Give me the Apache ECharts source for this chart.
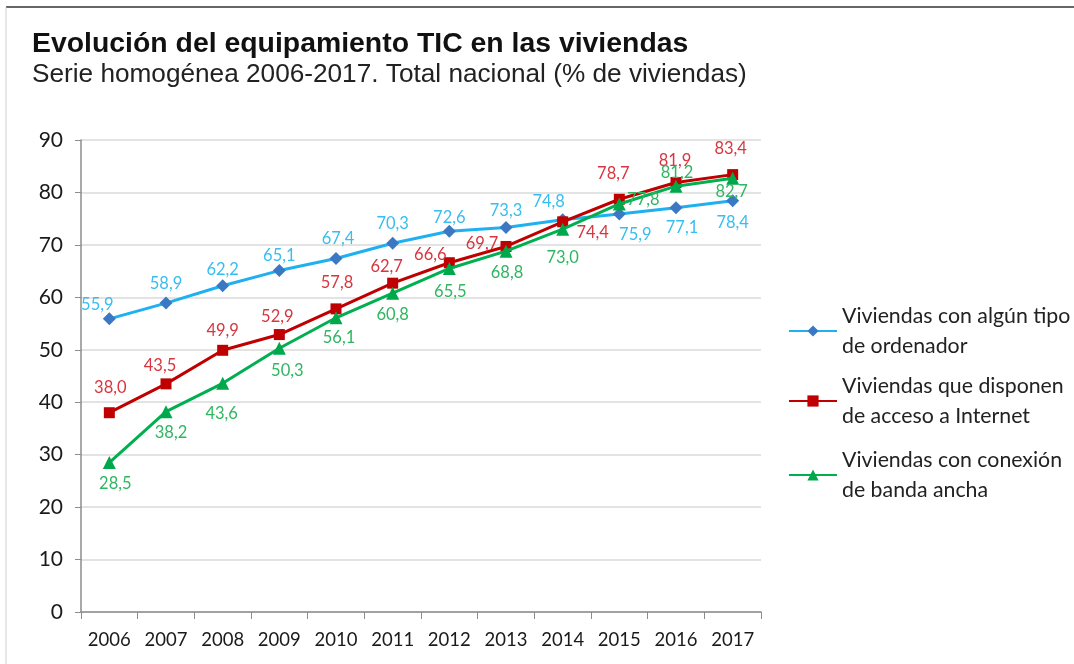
<!DOCTYPE html>
<html>
<head>
<meta charset="utf-8">
<script src="https://cdn.jsdelivr.net/npm/echarts@6/dist/echarts.min.js"></script>
<style>
  html, body { margin: 0; padding: 0; background: #fff; }
  #chart { width: 1074px; height: 664px; }
</style>
</head>
<body>
<div id="chart"></div>
<script>
// datos
const years = ["2006", "2007", "2008", "2009", "2010", "2011", "2012", "2013", "2014", "2015", "2016", "2017"];
const ordenador = [55.9, 58.9, 62.2, 65.1, 67.4, 70.3, 72.6, 73.3, 74.8, 75.9, 77.1, 78.4];
const internet = [38.0, 43.5, 49.9, 52.9, 57.8, 62.7, 66.6, 69.7, 74.4, 78.7, 81.9, 83.4];
const bandaAncha = [28.5, 38.2, 43.6, 50.3, 56.1, 60.8, 65.5, 68.8, 73.0, 77.8, 81.2, 82.7];
const names = [
  ["Viviendas con algún tipo", "de ordenador"],
  ["Viviendas que disponen", "de acceso a Internet"],
  ["Viviendas con conexión", "de banda ancha"]
];

// where each value label sits relative to its marker
const offOrdenador = [[-12,-14],[0,-19],[0,-16],[0,-15],[2,-20],[0,-20],[0,-14],[0,-17],[-14,-18],[16,21],[6,20],[0,22]];
const offInternet = [[1,-25],[-6,-18],[0,-20],[-2,-18],[1,-26],[-6,-17],[-19,-8],[-24,-3],[30,11],[-6,-26],[-1,-22],[-2,-26]];
const offBanda = [[6,21],[5,21],[-1,30],[8,22],[3,20],[0,22],[1,23],[1,21],[0,29],[24,-4],[1,-13],[-1,13]];

const fmt = (v) => v.toFixed(1).replace(".", ",");

function withLabels(values, offs, color) {
  return values.map((v, i) => ({
    value: v,
    label: { show: true, position: "inside", offset: offs[i], color: color,
      fontFamily: "Lato", fontSize: 16.5, formatter: () => fmt(v) }
  }));
}

function makeSeries(idx, values, offs, lineColor, markColor, labelColor, symbol, size) {
  return {
    name: names[idx][0] + "\n" + names[idx][1],
    type: "line",
    data: withLabels(values, offs, labelColor),
    symbol: symbol,
    symbolSize: size,
    color: lineColor,
    lineStyle: { width: 3, color: lineColor },
    itemStyle: { color: markColor },
    z: 3 + idx
  };
}

function legendFor(idx, top) {
  return {
    data: [names[idx][0] + "\n" + names[idx][1]],
    left: 788, top: top, padding: 0,
    itemWidth: 48, itemHeight: 14,
    selectedMode: false,
    textStyle: { fontFamily: "Lato", fontSize: 21.3, color: "#222", lineHeight: 30, padding: [30, 0, 0, 0] }
  };
}

const chart = echarts.init(document.getElementById("chart"));
chart.setOption({
  animation: false,
  backgroundColor: "#fff",
  title: {
    text: "Evolución del equipamiento TIC en las viviendas",
    subtext: "Serie homogénea 2006-2017. Total nacional (% de viviendas)",
    left: 27, top: 25, itemGap: 4,
    textStyle: { fontFamily: "Liberation Sans", fontWeight: "bold", fontSize: 28.4, color: "#111" },
    subtextStyle: { fontFamily: "Liberation Sans", fontSize: 26.2, color: "#222" }
  },
  legend: [legendFor(0, 286), legendFor(1, 356), legendFor(2, 430)],
  grid: { left: 81, right: 313, top: 140, bottom: 52, containLabel: false },
  xAxis: {
    type: "category",
    data: years,
    boundaryGap: true,
    axisLine: { lineStyle: { color: "#8c8c8c", width: 1.5 } },
    axisTick: { show: true, length: 7, lineStyle: { color: "#8c8c8c" } },
    axisLabel: { margin: 19, fontFamily: "Lato", fontSize: 18.5, color: "#1a1a1a", interval: 0 }
  },
  yAxis: {
    type: "value",
    min: 0, max: 90, interval: 10,
    axisLine: { show: true, lineStyle: { color: "#8c8c8c", width: 1.5 } },
    axisTick: { show: true, length: 6, lineStyle: { color: "#8c8c8c" } },
    splitLine: { lineStyle: { color: "#dadada", width: 1.5 } },
    axisLabel: { margin: 18, fontFamily: "Lato", fontSize: 21, color: "#1a1a1a" }
  },
  graphic: [
    { type: "line", shape: { x1: 6, y1: 7, x2: 1074, y2: 7 }, style: { stroke: "#333", lineWidth: 1.5 } },
    { type: "line", shape: { x1: 6, y1: 7, x2: 6, y2: 664 }, style: { stroke: "#cfcfcf", lineWidth: 1 } }
  ],
  series: [
    makeSeries(0, ordenador, offOrdenador, "#1FB0F0", "#3B78C3", "#38BDF0", "diamond", 13),
    makeSeries(1, internet, offInternet, "#C00000", "#C00000", "#D8363F", "rect", 11),
    makeSeries(2, bandaAncha, offBanda, "#00B050", "#00A84C", "#2EB660", "triangle", 13)
  ]
});
</script>
</body>
</html>
